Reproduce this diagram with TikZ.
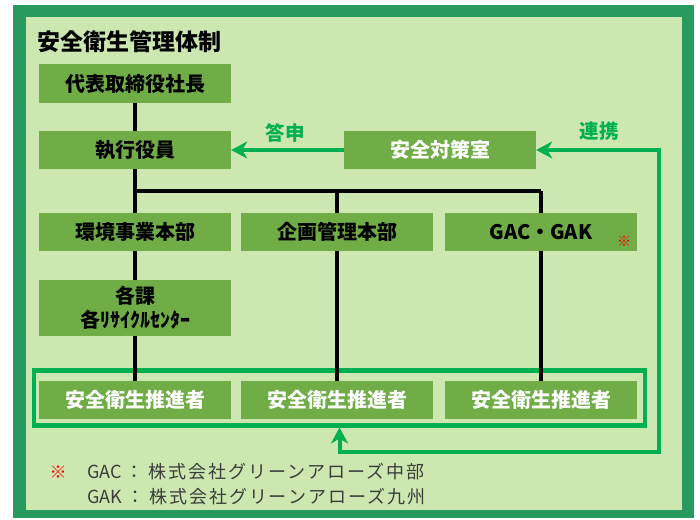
\documentclass[tikz,border=0pt]{standalone}
\usepackage{fontspec}
\setmainfont{Noto Sans CJK JP}
\usetikzlibrary{arrows.meta}
\definecolor{framegreen}{RGB}{40,154,94}
\definecolor{bggreen}{RGB}{204,232,176}
\definecolor{boxgreen}{RGB}{112,173,71}
\definecolor{linegreen}{RGB}{0,176,80}
\definecolor{notegray}{RGB}{60,60,60}
\begin{document}
\begin{tikzpicture}[x=1pt,y=-1pt,
  orgbox/.style={fill=boxgreen, minimum width=192pt, minimum height=38pt, inner sep=0pt,
    font=\fontsize{20}{24}\selectfont\bfseries, text=black, align=center},
  whitebox/.style={orgbox, text=white},
  blk/.style={line width=3.6pt, black},
  gline/.style={line width=4pt, linegreen},
  garrow/.style={gline, -{Stealth[length=16pt,width=17pt,inset=5pt]}},
  glabel/.style={text=linegreen, font=\fontsize{19.5}{23}\selectfont\bfseries},
  notetext/.style={text=notegray, font=\fontsize{18}{22}\selectfont, anchor=west, inner sep=0pt},
  redmark/.style={text=red, inner sep=0pt}]
\useasboundingbox (0,0) rectangle (700,519);
% frame
\fill[framegreen] (13,5) rectangle (694,518);
\fill[bggreen] (26,17) rectangle (682,510);
% title
\node[anchor=west, inner sep=0pt, font=\fontsize{23}{27}\selectfont\bfseries] (title) at (37,42) {安全衛生管理体制};
% container of promoters
\coordinate (cnw) at (34,370.5);
\coordinate (cse) at (645,425.5);
\draw[line width=4.5pt, linegreen] (cnw) rectangle (cse);
\coordinate (cbot) at (339.5,427.5);
% black connectors (behind boxes)
\coordinate (j1) at (135,191);
\coordinate (j2) at (337,191);
\coordinate (j3) at (541,191);
\coordinate (b1) at (135,381);
\coordinate (b2) at (337,381);
\coordinate (b3) at (541,381);
\draw[blk] (135,103) -- (b1);
\draw[blk] (j1) -- (j3);
\draw[blk] (j2) -- (b2);
\draw[blk] (j3) -- (b3);
% boxes
\node[orgbox, minimum height=39pt] (daihyo) at (135,83.5) {代表取締役社長};
\node[orgbox] (shikko) at (135,150) {執行役員};
\node[whitebox] (taisaku) at (440,150) {安全対策室};
\node[orgbox] (kankyo) at (135,232) {環境事業本部};
\node[orgbox] (kikaku) at (337,232) {企画管理本部};
\node[orgbox] (gac) at (541,232) {GAC・GAK};
\node[redmark, font=\fontsize{14}{16}\selectfont] (gacmark) at (624,241) {※};
\node[orgbox, minimum height=56pt, font=\fontsize{20}{24}\selectfont\bfseries] (kaka) at (135,308) {各課\\各ﾘｻｲｸﾙｾﾝﾀｰ};
\node[whitebox] (s1) at (135,399.5) {安全衛生推進者};
\node[whitebox] (s2) at (337,399.5) {安全衛生推進者};
\node[whitebox] (s3) at (541,399.5) {安全衛生推進者};
% green arrows
\draw[garrow] (taisaku.west) -- (shikko.east);
\node[glabel] (toshin) at (285,133) {答申};
\coordinate (rtop) at (659,150);
\coordinate (rbot) at (659,452);
\draw[gline, {Stealth[length=16pt,width=17pt,inset=5pt]}-{Stealth[length=16pt,width=17pt,inset=5pt]}]
  (taisaku.east) -- (rtop) -- (rbot) -| (cbot);
\node[glabel] (renkei) at (599,131) {連携};
% footnote
\node[redmark, font=\fontsize{17}{20}\selectfont] (nmark) at (58,472) {※};
\node[notetext] (n1) at (87,472) {GAC\hspace{4pt}：\hspace{5pt}{\addfontfeature{LetterSpace=11}株式会社グリーンアローズ中部}};
\node[notetext] (n2) at (87,497) {GAK\hspace{4pt}：\hspace{5pt}{\addfontfeature{LetterSpace=11}株式会社グリーンアローズ九州}};
\end{tikzpicture}
\end{document}
